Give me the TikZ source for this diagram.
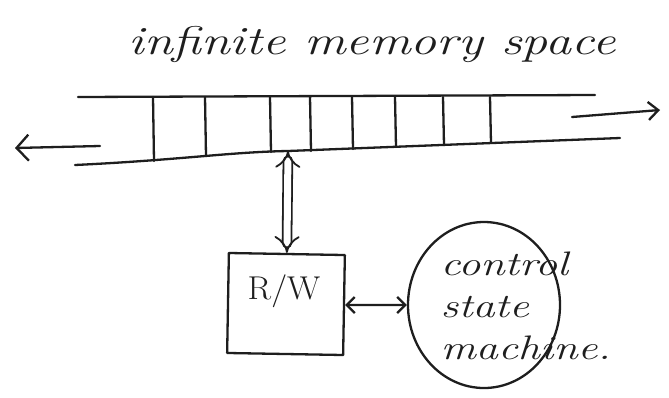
\documentclass[tikz,border=0pt]{standalone}
\usetikzlibrary{arrows.meta,shapes.geometric}
\definecolor{ink}{HTML}{1E1E1E}
\begin{document}
\begin{tikzpicture}[x=1pt,y=-1pt,
  pen/.style={draw=ink,line width=2.3pt,line cap=round,line join=round},
  hand/.style={text=ink,font=\itshape}]
\useasboundingbox (0,0) rectangle (669,397);
\fill[white] (0,0) rectangle (669,397);

% title
\node[hand,font=\itshape\fontsize{40}{46}\selectfont,xscale=1.3] (title) at (372,44) {infinite memory space};

% tape rails
\draw[pen] (78,97) -- (595,95);
\draw[pen] (75,165) .. controls (180,160) and (230,152) .. (288,151) -- (620,138);
% cell walls
\foreach \x/\b in {153/161,205/156,270/152,310/151,352/149,395/147,443/145,490/143}
  \draw[pen] (\x,97) -- (\x+1,\b);

% both directions of the tape go on forever
\coordinate (lt) at (100,146);
\coordinate (lh) at (15,148);
\coordinate (rt) at (572,117);
\coordinate (rh) at (660,110);
\draw[pen,-{Straight Barb[length=12pt,width=26pt,line width=2.3pt]}] (lt) -- (lh);
\draw[pen,-{Straight Barb[length=10pt,width=18pt,line width=2.3pt]}] (rt) -- (rh);

% read/write head
\node[pen,minimum width=116pt,minimum height=100pt,inner sep=0pt,rotate=-1] (rw) at (286,304) {};
\node[hand,font=\fontsize{33}{36}\selectfont,xscale=1.05] (rwlabel) at (284,291) {R/W};

% head <-> tape cell
\coordinate (cell) at (288,151);
\draw[pen,double=white,double distance=7pt,line width=1.8pt,
  {Implies[length=12pt,width=28pt]}-{Implies[length=12pt,width=28pt]}]
  (cell) -- (rw.north);

% control unit
\node[pen,ellipse,minimum width=152pt,minimum height=166pt,inner sep=0pt] (csm) at (484,305) {};
\node[hand,font=\itshape\fontsize{34}{42}\selectfont,align=left,anchor=north west,xscale=1.3] (csmlabel) at (436,248) {control\\state\\machine.};

% head <-> control
\draw[pen,{Straight Barb[length=8pt,width=16pt,line width=2.3pt]}-{Straight Barb[length=8pt,width=16pt,line width=2.3pt]}]
  (rw.east) -- (csm.west);
\end{tikzpicture}
\end{document}
